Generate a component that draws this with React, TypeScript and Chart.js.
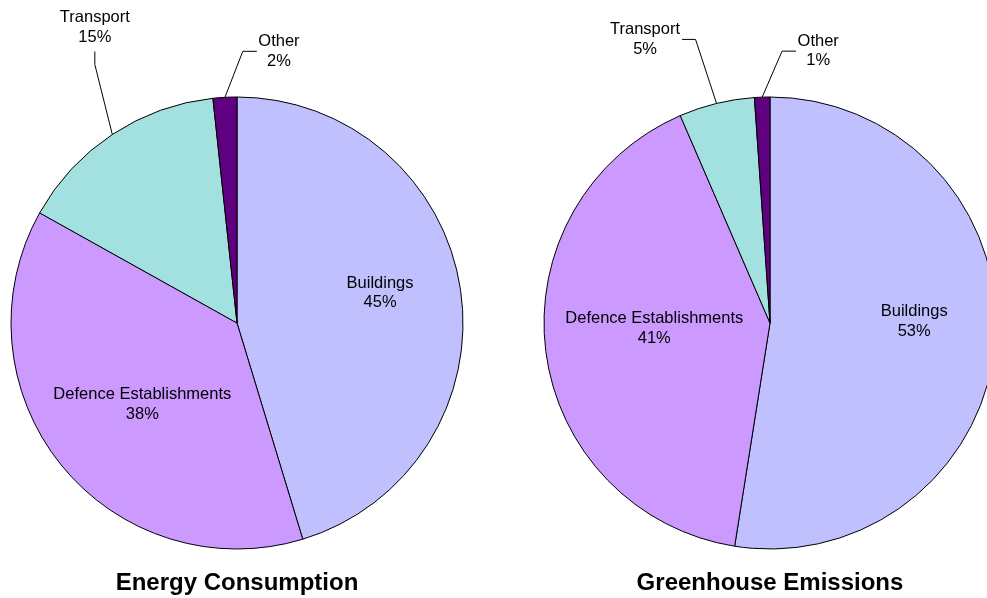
import React, { useEffect, useRef } from "react";
import { Chart, registerables } from "chart.js";

Chart.register(...registerables);

// ---- data ----
const categories = ["Buildings", "Defence Establishments", "Transport", "Other"];
const energyValues = [45.3, 37.8, 15.2, 1.7];
const emissionsValues = [52.5, 41.0, 5.4, 1.1];
const chartTitles = ["Energy Consumption", "Greenhouse Emissions"];

// ---- styles / layout ----
const sliceColors = ["#C0C0FF", "#CC99FF", "#A3E0E0", "#5F0080"];
const FONT = '"Liberation Sans", Arial, Helvetica, sans-serif';
const FS = 16.5;
const LH = 19.5;
const TITLE_FS = 24;
const PIE_RADIUS = 226;
const CANVAS_W = 474;
const CANVAS_H = 598;
const canvasLefts = [0, 533];

// callouts: label centre offset from slice edge point, and where the leader attaches
const calloutLayouts: Record<number, { dx: number; dy: number; side: string }>[] = [
  { 2: { dx: -17.5, dy: -107, side: "bottom" }, 3: { dx: 54, dy: -46, side: "left" } },
  { 2: { dx: -71.5, dy: -64, side: "right" }, 3: { dx: 56, dy: -46, side: "left" } },
];
// vertical nudges of the inside labels
const insideNudges = [
  [-9, 5, 0, 0],
  [-13, -9, 0, 0],
];

const labelPlugin = {
  id: "pieLabels",
  afterDatasetsDraw(chart: any, _args: any, opts: any) {
    const ctx: CanvasRenderingContext2D = chart.ctx;
    const meta = chart.getDatasetMeta(0);
    const values = chart.data.datasets[0].data as number[];
    const labels = chart.data.labels as string[];
    const cfg = (opts && opts.callouts) || {};
    const nudges: number[] = (opts && opts.nudges) || [];
    ctx.save();
    ctx.font = `${FS}px ${FONT}`;
    ctx.fillStyle = "#000";
    ctx.strokeStyle = "#000";
    ctx.lineWidth = 1;
    ctx.textAlign = "center";
    ctx.textBaseline = "middle";
    meta.data.forEach((arc: any, i: number) => {
      const p = arc.getProps(["x", "y", "startAngle", "endAngle", "outerRadius"], true);
      const mid = (p.startAngle + p.endAngle) / 2;
      const lines = [String(labels[i]), Math.round(values[i]) + "%"];
      const w = Math.max(...lines.map((l) => ctx.measureText(l).width));
      const h = LH * 2;
      const c = cfg[i];
      let cx: number, cy: number;
      if (!c) {
        const lim = p.outerRadius - 18;
        const fits = (dd: number) => {
          const ox = Math.cos(mid) * dd;
          const oy = Math.sin(mid) * dd;
          return [
            [-1, -1],
            [1, -1],
            [-1, 1],
            [1, 1],
          ].every(([sx, sy]) => Math.hypot(ox + (sx * w) / 2, oy + (sy * h) / 2) <= lim);
        };
        let d = p.outerRadius * 0.64;
        while (d > 0 && !fits(d)) d -= 1;
        cx = p.x + Math.cos(mid) * d;
        cy = p.y + Math.sin(mid) * d + (nudges[i] || 0);
      } else {
        const ex = p.x + Math.cos(mid) * p.outerRadius;
        const ey = p.y + Math.sin(mid) * p.outerRadius;
        cx = ex + c.dx;
        cy = ey + c.dy;
        let ax: number, ay: number, bx: number, by: number;
        if (c.side === "bottom") {
          ax = cx;
          ay = cy + 24;
          bx = ax;
          by = ay + 13;
        } else if (c.side === "left") {
          ax = cx - w / 2 - 1.5;
          ay = cy;
          bx = ax - 14;
          by = ay;
        } else {
          ax = cx + w / 2 + 2;
          ay = cy;
          bx = ax + 13.5;
          by = ay;
        }
        ctx.beginPath();
        ctx.moveTo(ex, ey);
        ctx.lineTo(bx, by);
        ctx.lineTo(ax, ay);
        ctx.stroke();
      }
      ctx.fillText(lines[0], cx, cy - LH / 2);
      ctx.fillText(lines[1], cx, cy + LH / 2);
    });
    ctx.restore();
  },
};

function PiePanel({ values, title, index }: { values: number[]; title: string; index: number }) {
  const ref = useRef<HTMLCanvasElement | null>(null);
  useEffect(() => {
    if (!ref.current) return;
    const titleH = TITLE_FS * 1.2;
    const topPad = 2 * 323 - (CANVAS_H - titleH);
    const chart = new Chart(ref.current, {
      type: "pie",
      data: {
        labels: categories,
        datasets: [
          {
            data: values,
            backgroundColor: sliceColors,
            borderColor: "#000",
            borderWidth: 1,
          },
        ],
      },
      options: {
        responsive: false,
        animation: false,
        radius: PIE_RADIUS,
        layout: { padding: { top: topPad, bottom: 0, left: 0, right: 0 } },
        plugins: {
          legend: { display: false },
          tooltip: { enabled: false },
          title: {
            display: true,
            text: title,
            position: "bottom",
            color: "#000",
            font: { family: FONT, size: TITLE_FS, weight: "bold", lineHeight: 1.2 },
            padding: 0,
          },
          pieLabels: { callouts: calloutLayouts[index], nudges: insideNudges[index] },
        } as any,
      } as any,
      plugins: [labelPlugin],
    });
    return () => chart.destroy();
  }, [values, title, index]);
  return (
    <canvas
      ref={ref}
      width={CANVAS_W}
      height={CANVAS_H}
      style={{
        position: "absolute",
        left: canvasLefts[index],
        top: 0,
        width: CANVAS_W,
        height: CANVAS_H,
        display: "block",
      }}
    />
  );
}

export default function App() {
  return (
    <div
      style={{
        position: "absolute",
        left: 0,
        top: 0,
        width: 987,
        height: 598,
        overflow: "hidden",
        background: "#fff",
      }}
    >
      <PiePanel values={energyValues} title={chartTitles[0]} index={0} />
      <PiePanel values={emissionsValues} title={chartTitles[1]} index={1} />
    </div>
  );
}
